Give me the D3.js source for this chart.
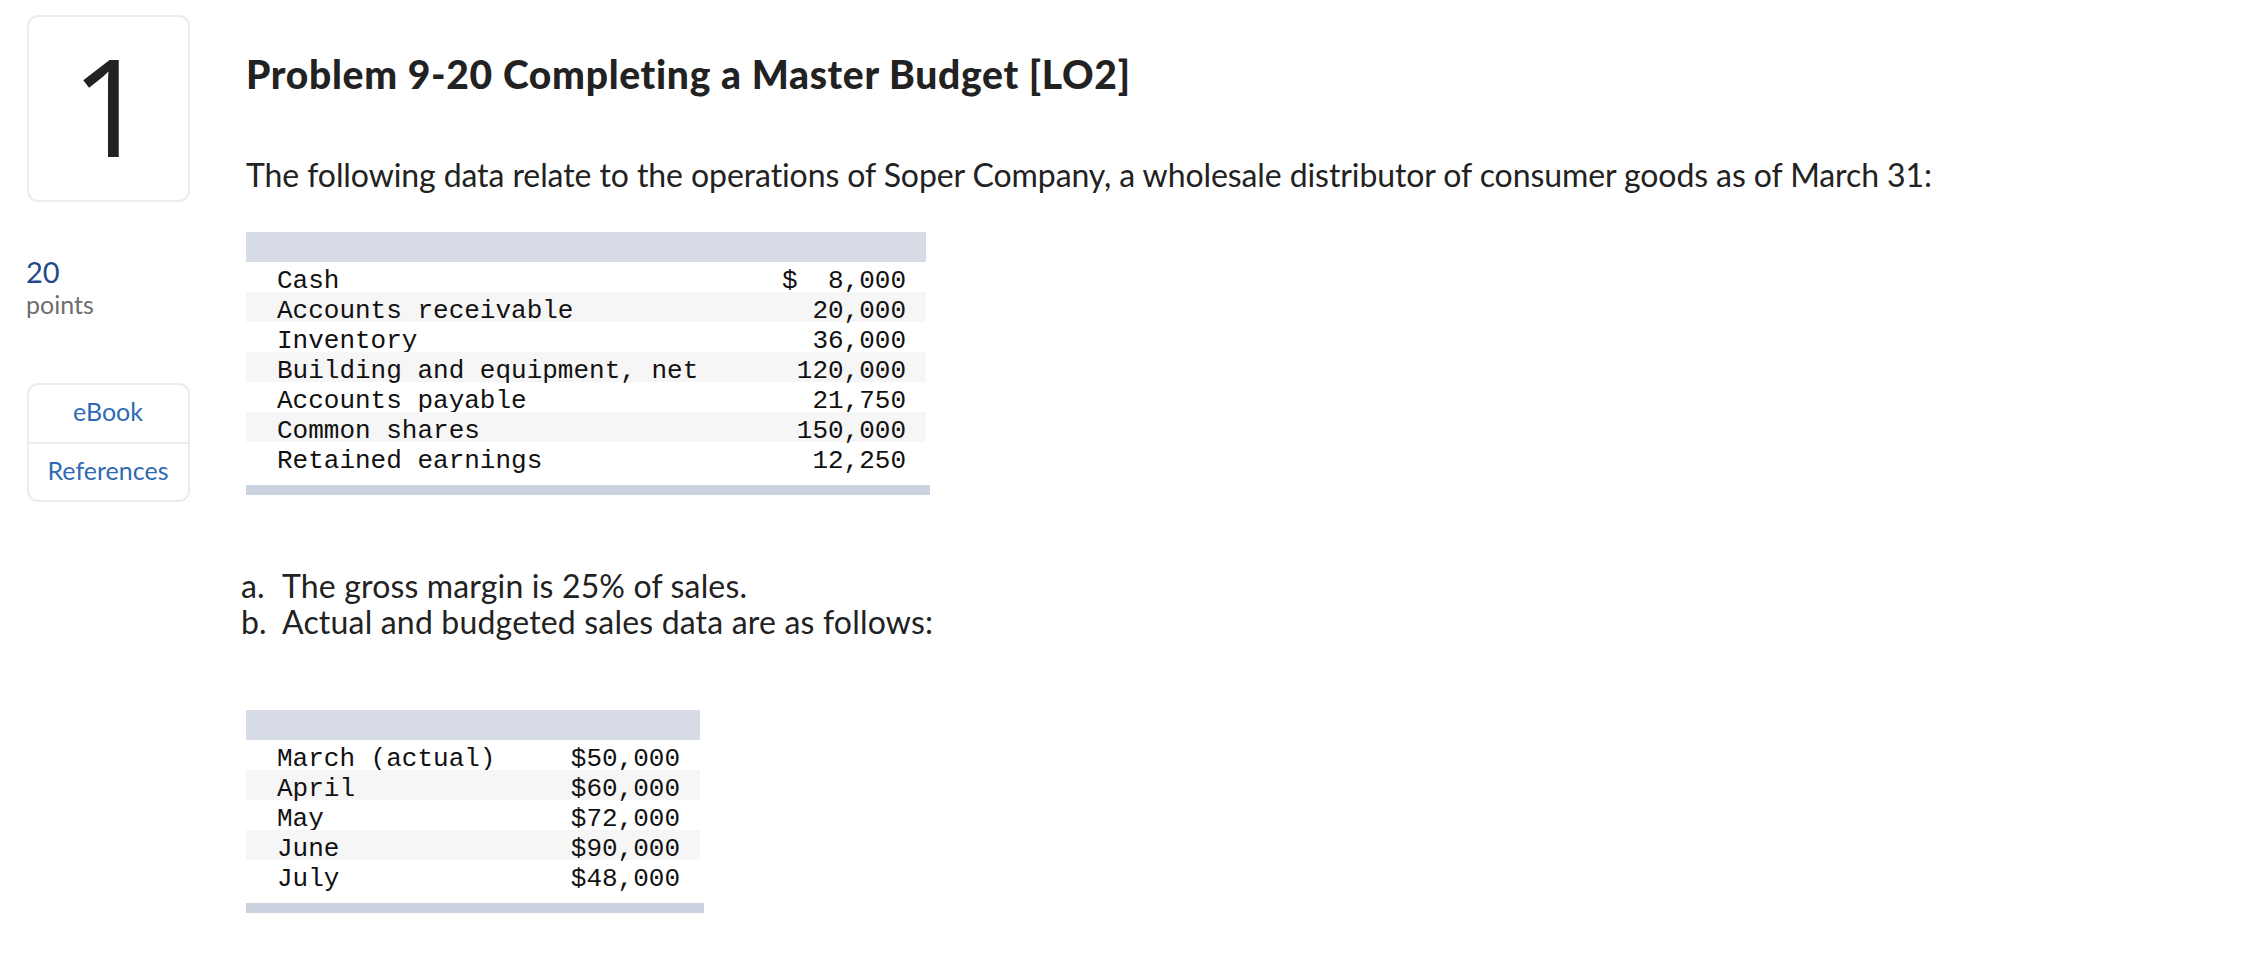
<!DOCTYPE html>
<html>
<head>
<meta charset="utf-8">
<title>Problem 9-20</title>
<script src="https://cdn.jsdelivr.net/npm/d3@7"></script>
<style>
  html, body { margin: 0; padding: 0; background: #fff; }
  svg { display: block; }
  text { font-family: Lato, "Open Sans", sans-serif; fill: #222; font-variant-ligatures: none; }
  .mono { font-family: "Liberation Mono", monospace; font-size: 26px; fill: #111; }
  .link { fill: #2f6ab3; font-size: 25px; text-anchor: middle; }
</style>
</head>
<body>
<svg id="sheet" width="2266" height="962"></svg>
<script>
var balanceLabels = ['Cash', 'Accounts receivable', 'Inventory', 'Building and equipment, net', 'Accounts payable', 'Common shares', 'Retained earnings'];
var balanceValues = [8000, 20000, 36000, 120000, 21750, 150000, 12250];
var salesMonths = ['March (actual)', 'April', 'May', 'June', 'July'];
var salesValues = [50000, 60000, 72000, 90000, 48000];
var notes = ['The gross margin is 25% of sales.', 'Actual and budgeted sales data are as follows:'];
var noteMarks = ['a.', 'b.'];
var sideLinks = ['eBook', 'References'];

var svg = d3.select('#sheet');
var amount = d3.format(',');

function drawTable(opts){
  var g = svg.append('g');
  var y = d3.scaleBand().domain(opts.labels).range([opts.top + 30, opts.top + 30 + opts.labels.length * 30]);

  g.append('rect').attr('x', 246).attr('y', opts.top).attr('width', opts.width).attr('height', 30).attr('fill', '#d6dbe5');

  var rows = g.selectAll('g.row').data(opts.labels).enter().append('g').attr('class', 'row');

  rows.filter(function(d, i){ return i % 2 == 1; }).append('rect')
    .attr('x', 246)
    .attr('y', function(d){ return y(d); })
    .attr('width', opts.width)
    .attr('height', y.bandwidth())
    .attr('fill', '#f6f6f6');

  rows.append('text').attr('class', 'mono')
    .attr('x', 277)
    .attr('y', function(d){ return y(d) + 26; })
    .text(function(d){ return d; });

  rows.append('text').attr('class', 'mono')
    .attr('x', opts.right)
    .attr('y', function(d){ return y(d) + 26; })
    .attr('text-anchor', 'end')
    .text(function(d, i){ return opts.prefix + amount(opts.values[i]); });

  g.append('rect')
    .attr('x', 246)
    .attr('y', y.range()[1] + 13)
    .attr('width', opts.width + 4)
    .attr('height', 10)
    .attr('fill', '#cbd2df');

  return y;
}

function card(x, y, w, h){
  svg.append('rect').attr('x', x).attr('y', y).attr('width', w).attr('height', h)
    .attr('rx', 10).attr('fill', '#fff').attr('stroke', '#ececec').attr('stroke-width', 2);
}

// question number card
card(28, 16, 161, 185);
svg.append('text').attr('x', 110).attr('y', 157).attr('text-anchor', 'middle')
  .style('font-family', '"Open Sans", sans-serif').style('font-size', '136px').style('font-weight', 500).text('1');

svg.append('text').attr('x', 246).attr('y', 89)
  .attr('textLength', 884).attr('lengthAdjust', 'spacing')
  .style('font-size', '39px').style('font-weight', 900)
  .text('Problem 9-20 Completing a Master Budget [LO2]');

svg.append('text').attr('x', 246).attr('y', 187)
  .attr('textLength', 1686).attr('lengthAdjust', 'spacing')
  .style('font-size', '32px')
  .text('The following data relate to the operations of Soper Company, a wholesale distributor of consumer goods as of March 31:');

// points
svg.append('text').attr('x', 26).attr('y', 283).style('font-size', '29px').style('fill', '#1f4a8c').text('20');
svg.append('text').attr('x', 26).attr('y', 314).style('font-size', '25px').style('fill', '#6e6e6e').text('points');

// side links
card(28, 384, 161, 117);
svg.append('line').attr('x1', 28).attr('x2', 189).attr('y1', 443).attr('y2', 443).attr('stroke', '#ececec').attr('stroke-width', 2);
svg.selectAll('text.link').data(sideLinks).enter().append('text').attr('class', 'link')
  .attr('x', 108)
  .attr('y', function(d, i){ return 421 + i * 59; })
  .text(function(d){ return d; });

var balanceY = drawTable({ labels: balanceLabels, values: balanceValues, top: 232, width: 680, right: 906, prefix: '' });

// dollar sign on the first row
svg.append('text').attr('class', 'mono').attr('x', 782).attr('y', balanceY(balanceLabels[0]) + 26).text('$');

// notes
var noteY = d3.scalePoint().domain(notes).range([598, 634]);
svg.selectAll('text.mark').data(noteMarks).enter().append('text').attr('class', 'mark')
  .attr('x', 241)
  .attr('y', function(d, i){ return noteY(notes[i]); })
  .style('font-size', '32px')
  .text(function(d){ return d; });
svg.selectAll('text.note').data(notes).enter().append('text').attr('class', 'note')
  .attr('x', 282)
  .attr('y', function(d){ return noteY(d); })
  .attr('textLength', function(d, i){ return i == 0 ? 465 : 651; })
  .attr('lengthAdjust', 'spacing')
  .style('font-size', '32px')
  .text(function(d){ return d; });

drawTable({ labels: salesMonths, values: salesValues, top: 710, width: 454, right: 680, prefix: '$' });
</script>
</body>
</html>
